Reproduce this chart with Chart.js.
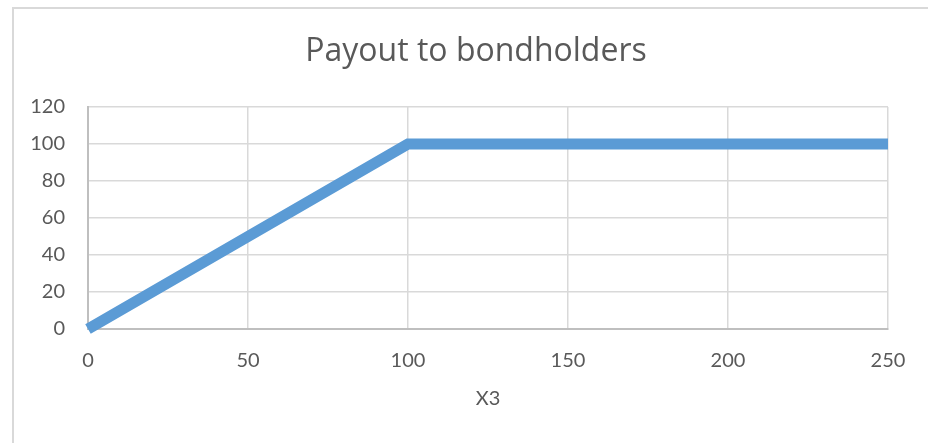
<!DOCTYPE html>
<html>
<head>
<meta charset="utf-8">
<script src="https://cdn.jsdelivr.net/npm/chart.js@4.4.1/dist/chart.umd.min.js"></script>
<style>
  html, body { margin: 0; padding: 0; background: #fff; }
  #frame {
    position: absolute; left: 12px; top: 7px; width: 940px; height: 460px;
    border-left: 2px solid #d9d9d9; border-top: 2px solid #d9d9d9;
  }
  #wrap { position: absolute; left: 0; top: 0; width: 928px; height: 443px; }
</style>
</head>
<body>
<div id="frame"></div>
<div id="wrap"><canvas id="payoutChart" width="928" height="443"></canvas></div>
<script>
// Payout to bondholders: min(X3, 100)
var x_values = [0, 100, 250];
var payout   = [0, 100, 100];
var x_ticks  = [0, 50, 100, 150, 200, 250];
var y_ticks  = [0, 20, 40, 60, 80, 100, 120];
var chart_title = 'Payout to bondholders';

var TEXT_COLOR = '#595959';
var FONT = 'Lato, "Open Sans", sans-serif';

// build the point list for the scatter line
var points = [];
for (var i = 0; i < x_values.length; i++) {
  points.push({ x: x_values[i], y: payout[i] });
}

// The Excel title is centred on the whole chart frame (which runs past
// the right edge of the window), so draw it ourselves.
var titlePlugin = {
  id: 'frameTitle',
  afterDraw: function(chart) {
    var ctx = chart.ctx;
    ctx.save();
    ctx.fillStyle = TEXT_COLOR;
    ctx.font = '32px "Open Sans", sans-serif';
    ctx.textAlign = 'center';
    ctx.textBaseline = 'alphabetic';
    ctx.fillText(chart_title, 476, 61);
    ctx.restore();
  }
};

new Chart(document.getElementById('payoutChart'), {
  type: 'scatter',
  data: {
    datasets: [{
      label: 'Payout',
      data: points,
      showLine: true,
      borderColor: '#5b9bd5',
      backgroundColor: '#5b9bd5',
      borderWidth: 11,
      borderCapStyle: 'butt',
      borderJoinStyle: 'miter',
      pointRadius: 0,
      clip: false,
    }],
  },
  options: {
    responsive: false,
    animation: false,
    layout: { padding: { left: 12, right: 40, top: 107, bottom: 0 } },
    plugins: {
      legend: { display: false },
      tooltip: { enabled: false },
      title: { display: false },
    },
    scales: {
      x: {
        type: 'linear',
        min: 0, max: 250,
        afterBuildTicks: function(scale) {
          scale.ticks = x_ticks.map(function(v) { return { value: v }; });
        },
        grid: { color: '#d9d9d9', lineWidth: 1.5, drawTicks: false },
        border: { color: '#bfbfbf', width: 2 },
        ticks: {
          color: TEXT_COLOR,
          font: { family: FONT, size: 20 },
          padding: 20,
          maxRotation: 0,
        },
        title: {
          display: true,
          text: 'X3',
          color: TEXT_COLOR,
          font: { family: FONT, size: 20 },
          padding: { top: 0, bottom: 32 },
        },
        afterFit: function(scale) { scale.height = 114; },
      },
      y: {
        type: 'linear',
        min: 0, max: 120,
        afterBuildTicks: function(scale) {
          scale.ticks = y_ticks.map(function(v) { return { value: v }; });
        },
        grid: { color: '#d9d9d9', lineWidth: 1.5, drawTicks: false },
        border: { color: '#bfbfbf', width: 2 },
        ticks: {
          color: TEXT_COLOR,
          font: { family: FONT, size: 20 },
          padding: 23,
        },
        afterFit: function(scale) { scale.width = 76; },
      },
    },
  },
  plugins: [titlePlugin],
});
</script>
</body>
</html>
